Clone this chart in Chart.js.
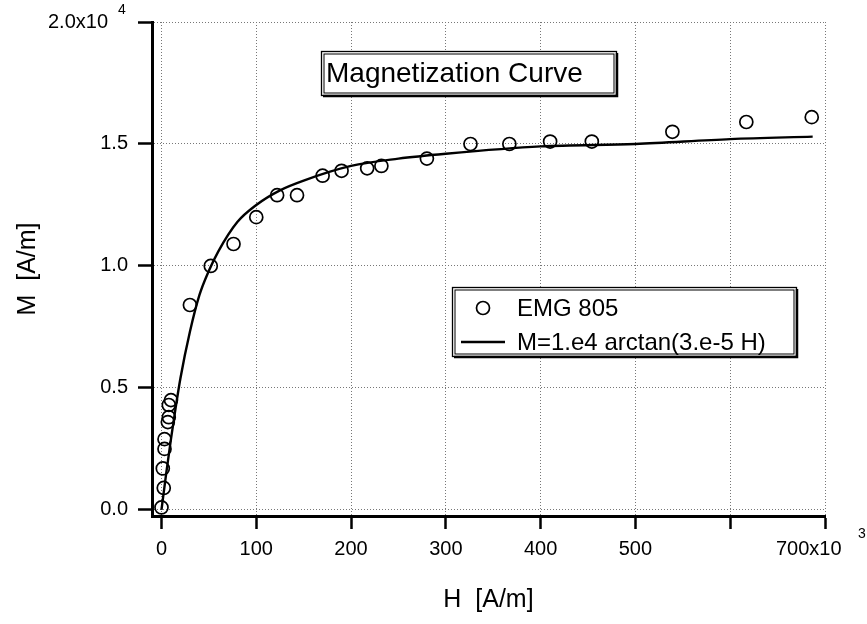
<!DOCTYPE html>
<html>
<head>
<meta charset="utf-8">
<script src="https://cdn.jsdelivr.net/npm/chart.js@4"></script>
<style>
  body { margin: 0; background: #fff; }
  canvas { display: block; }
</style>
</head>
<body>
<canvas id="magChart" width="867" height="624"></canvas>
<script>
// 量測點 EMG 805 (H: 10^3 A/m, M: 10^4 A/m)
const emgH = [0, 1.4, 2.4, 3.2, 3.2, 6.7, 7.7, 7.7, 10, 30, 52, 76, 100, 122, 143, 170, 190, 217, 232, 280, 326, 367, 410, 454, 539, 617, 686];
const emgM = [0.01, 0.17, 0.09, 0.25, 0.29, 0.36, 0.38, 0.43, 0.45, 0.84, 1.00, 1.09, 1.20, 1.29, 1.29, 1.37, 1.39, 1.40, 1.41, 1.44, 1.50, 1.50, 1.51, 1.51, 1.55, 1.59, 1.61];

// 擬合曲線 M=1.e4 arctan(3.e-5 H)
const fitH = [0, 5, 10, 15, 20, 30, 40, 50, 60, 80, 100, 125, 150, 200, 250, 300, 400, 500, 600, 687];
const fitM = [0, 0.15, 0.29, 0.42, 0.54, 0.73, 0.88, 0.98, 1.06, 1.18, 1.25, 1.31, 1.35, 1.41, 1.44, 1.46, 1.49, 1.50, 1.52, 1.53];

// 刻度
const xTicks = [0, 100, 200, 300, 400, 500, 600, 700];
const yTicks = [0, 0.5, 1.0, 1.5, 2.0];

const chartTitle = 'Magnetization Curve';
const FONT = '"Liberation Sans", Arial, Helvetica, sans-serif';

const toXY = (xs, ys) => xs.map((x, i) => ({ x: x, y: ys[i] }));

// 框框 (標題和圖例)
function drawBox(ctx, x, y, w, h) {
    ctx.save();
    ctx.fillStyle = '#fff';
    ctx.fillRect(x, y, w, h);
    ctx.strokeStyle = '#000';
    ctx.lineWidth = 1.3;
    ctx.strokeRect(x + 0.5, y + 0.5, w, h);
    ctx.lineWidth = 1;
    ctx.strokeRect(x + 3, y + 3, w - 5, h - 5);
    ctx.lineWidth = 2.5;
    ctx.beginPath();
    ctx.moveTo(x + w + 1, y + 2);
    ctx.lineTo(x + w + 1, y + h + 1);
    ctx.lineTo(x + 2, y + h + 1);
    ctx.stroke();
    ctx.restore();
}

const decorPlugin = {
    id: 'decor',
    afterDraw(chart) {
        const ctx = chart.ctx;
        const xs = chart.scales.x, ys = chart.scales.y;
        ctx.save();
        ctx.fillStyle = '#000';

        // 2.0x10^4
        const y2 = ys.getPixelForValue(2.0);
        ctx.font = '20px ' + FONT;
        ctx.textAlign = 'right';
        ctx.textBaseline = 'middle';
        ctx.fillText('2.0x10', 108, y2);
        ctx.font = '14px ' + FONT;
        ctx.textAlign = 'left';
        ctx.fillText('4', 118, y2 - 12);

        // 700x10^3
        const x7 = xs.getPixelForValue(700);
        ctx.font = '20px ' + FONT;
        ctx.textAlign = 'left';
        ctx.fillText('700x10', x7 - 49, 549);
        ctx.font = '14px ' + FONT;
        ctx.fillText('3', x7 + 33, 534);

        // 標題框
        drawBox(ctx, 321, 51, 295, 44);
        ctx.fillStyle = '#000';
        ctx.font = '28px ' + FONT;
        ctx.textAlign = 'left';
        ctx.fillText(chartTitle, 326, 74);

        // 圖例框
        drawBox(ctx, 452, 287, 344, 69);
        const ds = chart.data.datasets;
        ctx.fillStyle = '#000';
        ctx.font = '24px ' + FONT;
        ctx.beginPath();
        ctx.lineWidth = ds[0].borderWidth;
        ctx.arc(483, 308, 6.5, 0, Math.PI * 2);
        ctx.stroke();
        ctx.fillText(ds[0].label, 517, 309);
        ctx.beginPath();
        ctx.lineWidth = ds[1].borderWidth;
        ctx.moveTo(461, 342);
        ctx.lineTo(505, 342);
        ctx.stroke();
        ctx.fillText(ds[1].label, 517, 343);
        ctx.restore();
    }
};

const tickFont = { family: FONT, size: 20 };
const titleFont = { family: FONT, size: 25 };

new Chart(document.getElementById('magChart').getContext('2d'), {
    type: 'scatter',
    data: {
        datasets: [{
            label: 'EMG 805',
            data: toXY(emgH, emgM),
            pointStyle: 'circle',
            pointRadius: 6.5,
            borderColor: '#000',
            backgroundColor: 'rgba(0,0,0,0)',
            borderWidth: 1.7,
            showLine: false,
            order: 1
        }, {
            label: 'M=1.e4 arctan(3.e-5 H)',
            data: toXY(fitH, fitM),
            showLine: true,
            pointRadius: 0,
            borderColor: '#000',
            borderWidth: 2.4,
            cubicInterpolationMode: 'monotone',
            order: 2
        }]
    },
    options: {
        responsive: false,
        animation: false,
        layout: { padding: { left: 0, right: 42, top: 20, bottom: 0 } },
        plugins: {
            legend: { display: false },
            tooltip: { enabled: false }
        },
        scales: {
            x: {
                type: 'linear',
                min: -10,
                max: 700,
                afterBuildTicks: s => { s.ticks = xTicks.map(v => ({ value: v })); },
                afterFit: s => { s.height = 108; },
                ticks: {
                    autoSkip: false,
                    maxRotation: 0,
                    padding: 8,
                    color: '#000',
                    font: tickFont,
                    callback: v => (v >= 600 ? '' : String(v))
                },
                grid: {
                    color: '#777',
                    lineWidth: 1,
                    tickColor: '#000',
                    tickWidth: 2.5,
                    tickLength: 13
                },
                border: { color: '#000', width: 3, dash: [1, 2] },
                title: {
                    display: true,
                    text: 'H  [A/m]',
                    color: '#000',
                    font: titleFont,
                    padding: { top: 0, bottom: 9 }
                }
            },
            y: {
                type: 'linear',
                min: -0.025,
                max: 2.0,
                afterBuildTicks: s => { s.ticks = yTicks.map(v => ({ value: v })); },
                afterFit: s => { s.width = 152; },
                ticks: {
                    autoSkip: false,
                    padding: 10,
                    color: '#000',
                    font: tickFont,
                    callback: v => (v >= 2 ? '' : v.toFixed(1))
                },
                grid: {
                    color: '#777',
                    lineWidth: 1,
                    tickColor: '#000',
                    tickWidth: 2.5,
                    tickLength: 14
                },
                border: { color: '#000', width: 3, dash: [1, 2] },
                title: {
                    display: true,
                    text: 'M  [A/m]',
                    color: '#000',
                    font: titleFont,
                    padding: { top: 13, bottom: 0 }
                }
            }
        }
    },
    plugins: [decorPlugin]
});
</script>
</body>
</html>
